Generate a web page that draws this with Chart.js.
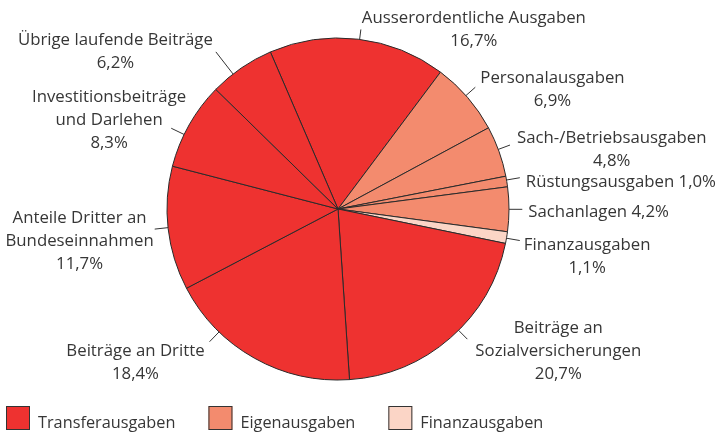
<!DOCTYPE html>
<html>
<head>
<meta charset="utf-8">
<script src="https://cdn.jsdelivr.net/npm/chart.js@4.4.1/dist/chart.umd.min.js"></script>
<style>
  html, body { margin: 0; padding: 0; background: #fff; }
  #wrap { width: 723px; height: 433px; }
</style>
</head>
<body>
<div id="wrap"><canvas id="budgetChart"></canvas></div>
<script>
// slices, clockwise from the "Ausserordentliche Ausgaben" slice
const sliceNames = [
  ['Ausserordentliche Ausgaben'],
  ['Personalausgaben'],
  ['Sach-/Betriebsausgaben'],
  ['Rüstungsausgaben'],
  ['Sachanlagen'],
  ['Finanzausgaben'],
  ['Beiträge an', 'Sozialversicherungen'],
  ['Beiträge an Dritte'],
  ['Anteile Dritter an', 'Bundeseinnahmen'],
  ['Investitionsbeiträge', 'und Darlehen'],
  ['Übrige laufende Beiträge']
];
const shares = [16.7, 6.9, 4.8, 1.0, 4.2, 1.1, 20.7, 18.4, 11.7, 8.3, 6.2];
const sliceGroup = [0, 1, 1, 1, 1, 2, 0, 0, 0, 0, 0];

const groupNames = ['Transferausgaben', 'Eigenausgaben', 'Finanzausgaben'];
const groupColors = ['#ee3230', '#f38b6e', '#fbd5c6'];

// label placement per slice: leader angle shift (deg), leader length, text dx, text dy
const labelLayout = [
  [0.5, 10, 1, 0],
  [-0.8, 12.5, 5, 2],
  [-0.7, 12.5, 7, 5],
  [-0.5, 13.5, 6, 5],
  [0, 13.3, 6, 3],
  [0.2, 13.5, 4, 16],
  [-3.7, 12.5, 8, 12],
  [14.8, 13.7, -5, 21],
  [0.3, 13.4, -1, 12],
  [-3.6, 14.3, 15, -8],
  [-3.4, 28, -3, 0]
];
const pctSameLine = [3, 4];

const FONT = '16.8px "Open Sans", sans-serif';
const LEGEND_FONT = '16.3px "Open Sans", sans-serif';
const TEXT_COLOR = '#363636';
const LINE_H = 23;

function pctText(v) {
  return v.toFixed(1).replace('.', ',') + '%';
}

function labelLines(i) {
  const lines = sliceNames[i].slice();
  if (pctSameLine.includes(i)) lines[lines.length - 1] += ' ' + pctText(shares[i]);
  else lines.push(pctText(shares[i]));
  return lines;
}

const sliceLabelPlugin = {
  id: 'sliceLabels',
  afterDatasetsDraw(chart) {
    const ctx = chart.ctx;
    const arcs = chart.getDatasetMeta(0).data;
    ctx.save();
    ctx.font = FONT;
    ctx.fillStyle = TEXT_COLOR;
    ctx.strokeStyle = '#333';
    ctx.lineWidth = 1;
    ctx.textAlign = 'center';
    ctx.textBaseline = 'middle';
    arcs.forEach((arc, i) => {
      const [shift, len, dx, dy] = labelLayout[i];
      const mid = (arc.startAngle + arc.endAngle) / 2 + shift * Math.PI / 180;
      const r = arc.outerRadius;
      const x0 = arc.x + Math.cos(mid) * r;
      const y0 = arc.y + Math.sin(mid) * r;
      const x1 = arc.x + Math.cos(mid) * (r + len);
      const y1 = arc.y + Math.sin(mid) * (r + len);
      ctx.beginPath();
      ctx.moveTo(x0, y0);
      ctx.lineTo(x1, y1);
      ctx.stroke();

      const lines = labelLines(i);
      const w = Math.max(...lines.map(l => ctx.measureText(l).width));
      const onRight = Math.cos(mid) >= 0;
      const cx = onRight ? x1 + dx + w / 2 : x1 + dx - w / 2;
      const top = y1 + dy - (lines.length - 1) * LINE_H / 2;
      lines.forEach((l, k) => ctx.fillText(l, cx, top + k * LINE_H));
    });
    ctx.restore();
  }
};

// legend with the three spending groups
const groupLegendPlugin = {
  id: 'groupLegend',
  afterDraw(chart) {
    const ctx = chart.ctx;
    const box = 24;
    const y = 406;
    let x = 6;
    ctx.save();
    ctx.font = LEGEND_FONT;
    ctx.textAlign = 'left';
    ctx.textBaseline = 'middle';
    groupNames.forEach((name, g) => {
      ctx.fillStyle = groupColors[g];
      ctx.fillRect(x, y, box, box);
      ctx.strokeStyle = '#333';
      ctx.lineWidth = 1;
      ctx.strokeRect(x + 0.5, y + 0.5, box - 1, box - 1);
      ctx.fillStyle = TEXT_COLOR;
      ctx.fillText(name, x + box + 8, y + box / 2 + 5);
      x += box + 8 + ctx.measureText(name).width + 33;
    });
    ctx.restore();
  }
};

new Chart(document.getElementById('budgetChart').getContext('2d'), {
  type: 'pie',
  data: {
    labels: sliceNames.map(n => n.join(' ')),
    datasets: [{
      data: shares,
      backgroundColor: sliceGroup.map(g => groupColors[g]),
      borderColor: '#2a2a2a',
      borderWidth: 1,
      radius: 171
    }]
  },
  options: {
    responsive: true,
    maintainAspectRatio: false,
    animation: false,
    rotation: -23.3,
    layout: { padding: { left: 0, right: 47, top: 0, bottom: 15 } },
    plugins: {
      legend: { display: false },
      tooltip: { enabled: false }
    }
  },
  plugins: [sliceLabelPlugin, groupLegendPlugin]
});
</script>
</body>
</html>
